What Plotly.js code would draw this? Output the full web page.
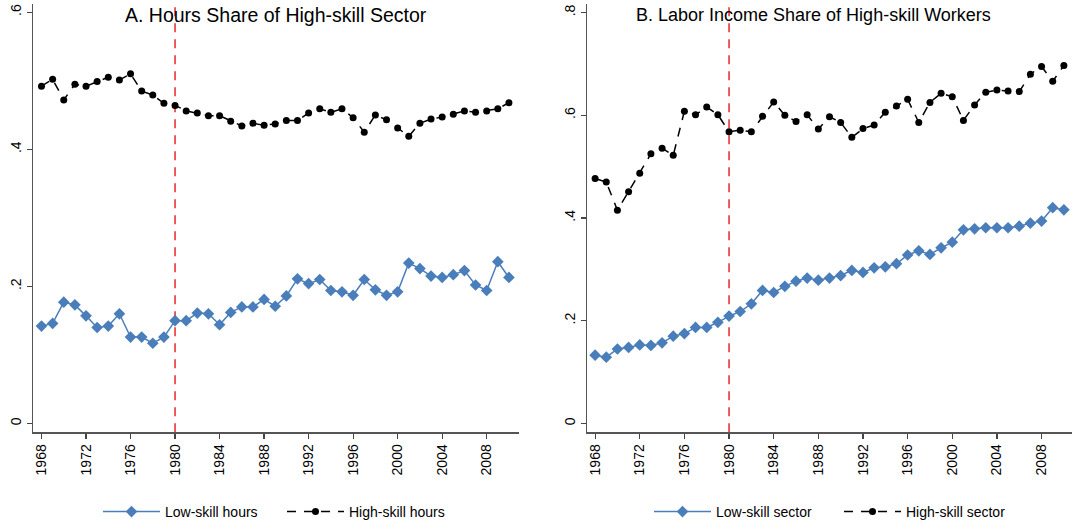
<!DOCTYPE html>
<html>
<head>
<meta charset="utf-8">
<script src="https://cdn.plot.ly/plotly-3.0.1.min.js"></script>
<style>html,body{margin:0;padding:0;background:#fff;}#chart{width:1076px;height:530px;}</style>
</head>
<body>
<div id="chart"></div>
<script>
const years = [];
for (let y = 1968; y <= 2010; y++) years.push(y);

const hoursLow = [0.142,0.146,0.177,0.173,0.157,0.140,0.142,0.160,0.126,0.126,0.117,0.126,0.150,0.150,0.161,0.160,0.144,0.162,0.170,0.170,0.181,0.171,0.186,0.211,0.204,0.210,0.194,0.192,0.187,0.210,0.195,0.187,0.192,0.234,0.226,0.215,0.213,0.217,0.223,0.202,0.194,0.236,0.213];
const hoursHigh = [0.492,0.502,0.472,0.495,0.492,0.499,0.505,0.501,0.510,0.485,0.479,0.467,0.464,0.456,0.453,0.449,0.449,0.441,0.434,0.438,0.435,0.437,0.442,0.442,0.453,0.459,0.454,0.459,0.446,0.425,0.450,0.443,0.431,0.419,0.438,0.444,0.447,0.451,0.456,0.454,0.456,0.459,0.468];

const incomeLow = [0.133,0.129,0.145,0.148,0.153,0.152,0.157,0.170,0.175,0.187,0.187,0.197,0.209,0.218,0.233,0.259,0.255,0.267,0.277,0.283,0.279,0.283,0.288,0.298,0.294,0.303,0.305,0.311,0.328,0.336,0.329,0.342,0.353,0.377,0.379,0.381,0.381,0.381,0.384,0.390,0.394,0.420,0.416];
const incomeHigh = [0.477,0.470,0.415,0.451,0.487,0.525,0.536,0.522,0.608,0.601,0.616,0.601,0.568,0.571,0.568,0.598,0.626,0.600,0.588,0.601,0.573,0.597,0.586,0.557,0.574,0.581,0.606,0.618,0.631,0.586,0.625,0.643,0.636,0.590,0.620,0.645,0.649,0.647,0.646,0.680,0.695,0.666,0.697];

const xTicks = [1968,1972,1976,1980,1984,1988,1992,1996,2000,2004,2008];
const xTickText = ["1968","1972","1976","1980","1984","1988","1992","1996","2000","2004","2008"];
const yTicksA = [0,0.2,0.4,0.6];
const yTickTextA = ["0",".2",".4",".6"];
const yTicksB = [0,0.2,0.4,0.6,0.8];
const yTickTextB = ["0",".2",".4",".6",".8"];
const breakYear = 1980;

const titleA = "A. Hours Share of High-skill Sector";
const titleB = "B. Labor Income Share of High-skill Workers";
const namesA = ["Low-skill hours","High-skill hours"];
const namesB = ["Low-skill sector","High-skill sector"];

const BLUE = "rgb(74,126,187)";
const FONT = "Liberation Sans, Arial, sans-serif";

const lowStyle = {mode:"lines+markers", line:{color:BLUE,width:1.5}, marker:{symbol:"diamond",size:9,color:BLUE}};
const highStyle = {mode:"lines+markers", line:{color:"#000",width:1.5,dash:"9px,8px"}, marker:{symbol:"circle",size:7,color:"#000"}};

const traces = [
  Object.assign({x:years, y:hoursLow, name:namesA[0], xaxis:"x", yaxis:"y", legend:"legend"}, lowStyle),
  Object.assign({x:years, y:hoursHigh, name:namesA[1], xaxis:"x", yaxis:"y", legend:"legend2"}, highStyle),
  Object.assign({x:years, y:incomeLow, name:namesB[0], xaxis:"x2", yaxis:"y2", legend:"legend3"}, lowStyle),
  Object.assign({x:years, y:incomeHigh, name:namesB[1], xaxis:"x2", yaxis:"y2", legend:"legend4"}, highStyle)
];

const xBase = {
  tickvals:xTicks, ticktext:xTickText, tickangle:-90, ticks:"outside", ticklen:5, tickwidth:1.2,
  tickcolor:"#444", showline:true, linecolor:"#555", linewidth:1.3, showgrid:false, zeroline:false,
  tickfont:{family:FONT,size:14,color:"#000"}
};
const yBase = {
  tickangle:-90, ticks:"outside", ticklen:5, tickwidth:1.2, tickcolor:"#444",
  showline:true, linecolor:"#555", linewidth:1.3, showgrid:false, zeroline:false,
  tickfont:{family:FONT,size:14,color:"#000"}
};

function legendAt(xpx) {
  return {orientation:"h", x:xpx/1076, xanchor:"left", y:0.034, yanchor:"middle", itemwidth:57,
    font:{family:FONT,size:14,color:"#000"}, bgcolor:"rgba(0,0,0,0)", borderwidth:0};
}

const layout = {
  width:1076, height:530,
  margin:{l:0,r:0,t:0,b:0},
  paper_bgcolor:"#fff", plot_bgcolor:"#fff",
  font:{family:FONT,color:"#000"},
  xaxis: Object.assign({}, xBase, {domain:[0.0307,0.4823], range:[1967.24,2010.9], anchor:"y"}),
  yaxis: Object.assign({}, yBase, {domain:[0.1842,0.9919], range:[-0.013,0.6115], tickvals:yTicksA, ticktext:yTickTextA, anchor:"x"}),
  xaxis2: Object.assign({}, xBase, {domain:[0.5455,0.996], range:[1967.27,2010.7], anchor:"y2"}),
  yaxis2: Object.assign({}, yBase, {domain:[0.1842,0.9919], range:[-0.0173,0.816], tickvals:yTicksB, ticktext:yTickTextB, anchor:"x2"}),
  legend: legendAt(98),
  legend2: legendAt(282),
  legend3: legendAt(649),
  legend4: legendAt(839),
  shapes:[
    {type:"line", xref:"x", yref:"y domain", x0:breakYear, x1:breakYear, y0:0, y1:1, line:{color:"#e8262b",width:1.5,dash:"9px,7px"}, layer:"below"},
    {type:"line", xref:"x2", yref:"y2 domain", x0:breakYear, x1:breakYear, y0:0, y1:1, line:{color:"#e8262b",width:1.5,dash:"9px,7px"}, layer:"below"}
  ],
  annotations:[
    {text:titleA, xref:"paper", yref:"paper", x:0.2565, y:0.972, xanchor:"center", yanchor:"middle", showarrow:false, font:{family:FONT,size:19.5,color:"#000"}},
    {text:titleB, xref:"paper", yref:"paper", x:0.7565, y:0.972, xanchor:"center", yanchor:"middle", showarrow:false, font:{family:FONT,size:18,color:"#000"}}
  ],
  showlegend:true
};

Plotly.newPlot("chart", traces, layout, {displayModeBar:false, staticPlot:true});
</script>
</body>
</html>
